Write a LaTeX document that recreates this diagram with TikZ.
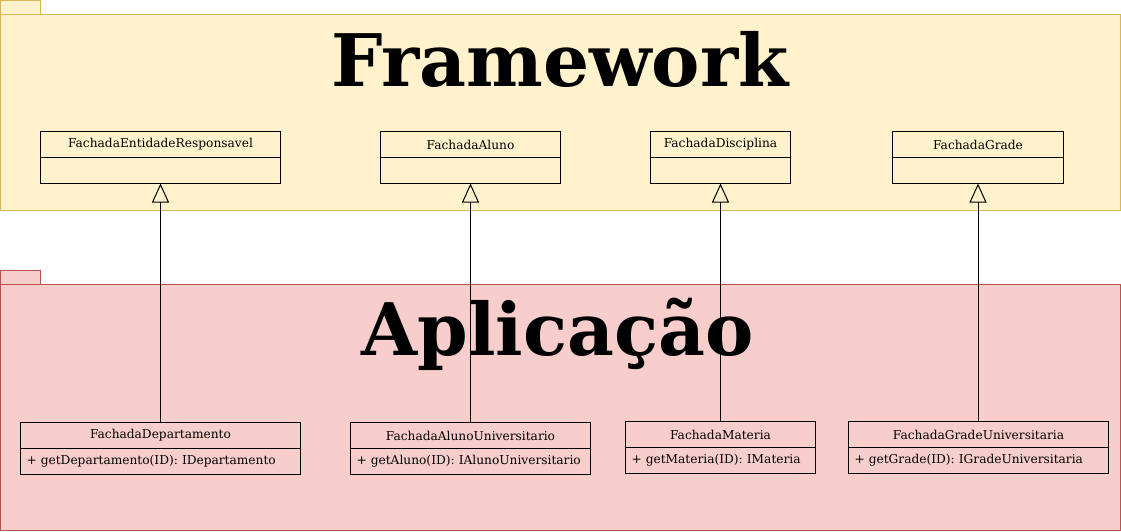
\documentclass[tikz,border=0pt]{standalone}
\usepackage{fontspec}
\setmainfont{DejaVu Serif}
\usetikzlibrary{arrows.meta}
\definecolor{fwfill}{HTML}{FFF2CC}
\definecolor{fwline}{HTML}{D6B656}
\definecolor{apfill}{HTML}{F8CECC}
\definecolor{apline}{HTML}{B85450}
\tikzset{
  pkgfw/.style={fill=fwfill, draw=fwline, line width=1pt},
  pkgap/.style={fill=apfill, draw=apline, line width=1pt},
  pkgtitle/.style={font=\fontsize{72.5}{82}\selectfont\bfseries, anchor=base, inner sep=0pt},
  clshead/.style={draw=black, line width=1pt, minimum height=26pt, inner sep=0pt, outer sep=0pt,
    anchor=north west, font=\fontsize{12.2}{14}\selectfont},
  clsbody/.style={draw=black, line width=1pt, minimum height=26pt, inner xsep=6pt, inner ysep=0pt,
    outer sep=0pt, anchor=north, font=\fontsize{12.2}{14}\selectfont, align=left},
  inherit/.style={draw=black, line width=1pt, -{Triangle[open, length=19pt, width=17pt]}}
}
\begin{document}
\begin{tikzpicture}[x=1pt, y=-1pt]
\useasboundingbox (0,0) rectangle (1121,531);

% packages
\draw[pkgfw] (0.5,0.5) rectangle (40.5,14.5);
\draw[pkgfw] (0.5,14.5) rectangle (1120.5,210.5);
\draw[pkgap] (0.5,270.5) rectangle (40.5,284.5);
\draw[pkgap] (0.5,284.5) rectangle (1120.5,530.5);

\node[pkgtitle] (fwtitle) at (560,86) {Framework};
\node[pkgtitle] (aptitle) at (557.5,355) {Aplicação};

% framework classes
\node[clshead, minimum width=240pt] (ent) at (40.5,131.5) {FachadaEntidadeResponsavel};
\node[clsbody, minimum width=240pt] (entb) at (ent.south) {};
\node[clshead, minimum width=180pt] (alu) at (380.5,131.5) {FachadaAluno};
\node[clsbody, minimum width=180pt] (alub) at (alu.south) {};
\node[clshead, minimum width=140pt] (dis) at (650.5,131.5) {FachadaDisciplina};
\node[clsbody, minimum width=140pt] (disb) at (dis.south) {};
\node[clshead, minimum width=171pt] (gra) at (892.5,131.5) {FachadaGrade};
\node[clsbody, minimum width=171pt] (grab) at (gra.south) {};

% application classes
\node[clshead, minimum width=280pt] (dep) at (20.5,422.5) {FachadaDepartamento};
\node[clsbody, minimum width=280pt, text width=268pt] (depb) at (dep.south) {+ getDepartamento(ID): IDepartamento};
\node[clshead, minimum width=240pt] (auni) at (350.5,422.5) {FachadaAlunoUniversitario};
\node[clsbody, minimum width=240pt, text width=228pt] (aunib) at (auni.south) {+ getAluno(ID): IAlunoUniversitario};
\node[clshead, minimum width=190pt] (mat) at (625.5,421.5) {FachadaMateria};
\node[clsbody, minimum width=190pt, text width=178pt] (matb) at (mat.south) {+ getMateria(ID): IMateria};
\node[clshead, minimum width=260pt] (guni) at (848.5,421.5) {FachadaGradeUniversitaria};
\node[clsbody, minimum width=260pt, text width=248pt] (gunib) at (guni.south) {+ getGrade(ID): IGradeUniversitaria};

% generalisation arrows
\draw[inherit] (dep.north -| entb.south) -- (entb.south);
\draw[inherit] (auni.north -| alub.south) -- (alub.south);
\draw[inherit] (mat.north -| disb.south) -- (disb.south);
\draw[inherit] (guni.north -| grab.south) -- (grab.south);
\end{tikzpicture}
\end{document}
